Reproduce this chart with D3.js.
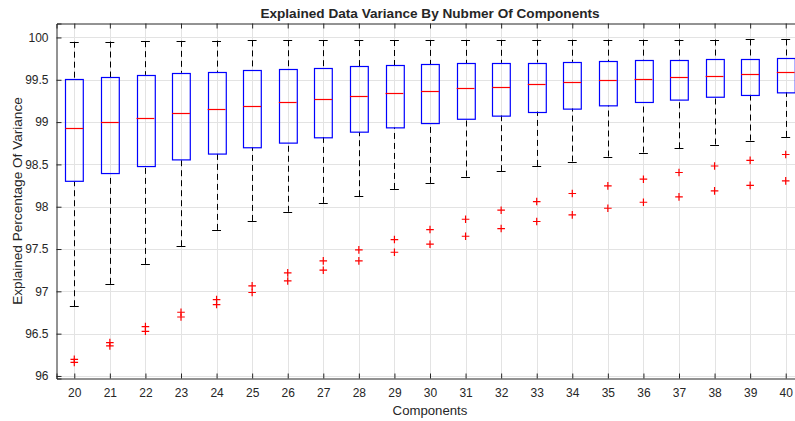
<!DOCTYPE html>
<html>
<head>
<meta charset="utf-8">
<script src="https://cdn.jsdelivr.net/npm/d3@7"></script>
<style>
  html, body { margin: 0; padding: 0; background: #fff; }
  svg { display: block; }
  text { font-family: "Liberation Sans", Arial, Helvetica, sans-serif; fill: #262626; }
</style>
</head>
<body>
<svg id="chart" width="795" height="421"></svg>
<script>
// ---- data ----
const components = [20,21,22,23,24,25,26,27,28,29,30,31,32,33,34,35,36,37,38,39,40];
const upperWhisker = [99.950,99.952,99.956,99.960,99.963,99.965,99.967,99.968,99.969,99.970,99.971,99.972,99.972,99.973,99.973,99.974,99.974,99.975,99.975,99.976,99.976];
const q3Values     = [99.504,99.527,99.558,99.582,99.593,99.613,99.629,99.641,99.657,99.673,99.681,99.693,99.700,99.704,99.712,99.720,99.728,99.735,99.740,99.747,99.759];
const medianValues = [98.936,98.999,99.054,99.105,99.152,99.196,99.239,99.274,99.306,99.342,99.369,99.397,99.420,99.448,99.468,99.492,99.511,99.527,99.546,99.566,99.586];
const q1Values     = [98.301,98.392,98.482,98.561,98.629,98.700,98.759,98.822,98.881,98.936,98.983,99.034,99.078,99.125,99.161,99.196,99.232,99.267,99.294,99.322,99.353];
const lowerWhisker = [96.824,97.088,97.324,97.533,97.726,97.832,97.940,98.045,98.124,98.210,98.281,98.357,98.420,98.482,98.534,98.593,98.640,98.690,98.735,98.782,98.825];
const outlierHigh  = [96.197,96.395,96.584,96.753,96.903,97.064,97.218,97.360,97.490,97.612,97.730,97.852,97.959,98.061,98.156,98.246,98.325,98.404,98.481,98.548,98.617];
const outlierLow   = [96.160,96.355,96.528,96.697,96.844,96.986,97.123,97.250,97.360,97.462,97.557,97.651,97.742,97.825,97.904,97.982,98.053,98.116,98.187,98.252,98.305];
const yTickValues  = [96, 96.5, 97, 97.5, 98, 98.5, 99, 99.5, 100];
const titleText = "Explained Data Variance By Nubmer Of Components";
const xLabelText = "Components";
const yLabelText = "Explained Percentage Of Variance";

// ---- layout ----
const W = 795, H = 421;
const plotLeft = 56.5, plotRight = 803.5, plotTop = 23.5, plotBottom = 378.5;
const boxHalf = 0.25;   // box width = 0.5 category units
const capHalf = 0.125;  // whisker cap width

const svg = d3.select("#chart");
const x = d3.scaleLinear().domain([19.5, 40.5]).range([plotLeft, plotRight]);
const y = d3.scaleLinear().domain([95.97, 100.165]).range([plotBottom, plotTop]);

const gridColor = "#e3e3e3";
const axisColor = "#262626";

// grid
const grid = svg.append("g");
grid.selectAll("line.gx").data(components).join("line")
  .attr("x1", d => Math.round(x(d)) + 0.5).attr("x2", d => Math.round(x(d)) + 0.5)
  .attr("y1", plotTop).attr("y2", plotBottom)
  .attr("stroke", gridColor).attr("stroke-width", 1);
grid.selectAll("line.gy").data(yTickValues).join("line")
  .attr("x1", plotLeft).attr("x2", plotRight)
  .attr("y1", d => Math.round(y(d)) + 0.5).attr("y2", d => Math.round(y(d)) + 0.5)
  .attr("stroke", gridColor).attr("stroke-width", 1);

// boxes data
const rows = components.map((c, i) => ({
  c, uw: upperWhisker[i], q3: q3Values[i], med: medianValues[i], q1: q1Values[i], lw: lowerWhisker[i],
  outs: [outlierHigh[i], outlierLow[i]]
}));

const g = svg.append("g");
const px = v => Math.round(v) + 0.5;

// whiskers (dashed)
g.selectAll("line.wu").data(rows).join("line")
  .attr("x1", d => px(x(d.c))).attr("x2", d => px(x(d.c)))
  .attr("y1", d => y(d.uw)).attr("y2", d => y(d.q3))
  .attr("stroke", "#000").attr("stroke-width", 1).attr("stroke-dasharray", "6,4");
g.selectAll("line.wl").data(rows).join("line")
  .attr("x1", d => px(x(d.c))).attr("x2", d => px(x(d.c)))
  .attr("y1", d => y(d.lw)).attr("y2", d => y(d.q1))
  .attr("stroke", "#000").attr("stroke-width", 1).attr("stroke-dasharray", "6,4");
// caps
g.selectAll("line.cu").data(rows).join("line")
  .attr("x1", d => x(d.c - capHalf)).attr("x2", d => x(d.c + capHalf))
  .attr("y1", d => px(y(d.uw))).attr("y2", d => px(y(d.uw)))
  .attr("stroke", "#000").attr("stroke-width", 1);
g.selectAll("line.cl").data(rows).join("line")
  .attr("x1", d => x(d.c - capHalf)).attr("x2", d => x(d.c + capHalf))
  .attr("y1", d => px(y(d.lw))).attr("y2", d => px(y(d.lw)))
  .attr("stroke", "#000").attr("stroke-width", 1);
// boxes
g.selectAll("rect.box").data(rows).join("rect")
  .attr("x", d => px(x(d.c - boxHalf))).attr("width", d => x(d.c + boxHalf) - x(d.c - boxHalf))
  .attr("y", d => px(y(d.q3))).attr("height", d => y(d.q1) - y(d.q3))
  .attr("fill", "none").attr("stroke", "#0000ff").attr("stroke-width", 1.2);
// medians
g.selectAll("line.med").data(rows).join("line")
  .attr("x1", d => x(d.c - boxHalf)).attr("x2", d => x(d.c + boxHalf))
  .attr("y1", d => px(y(d.med))).attr("y2", d => px(y(d.med)))
  .attr("stroke", "#ff0000").attr("stroke-width", 1.2);
// outliers (+)
const outPts = rows.flatMap(d => d.outs.map(v => ({ c: d.c, v })));
const ms = 3.8;
g.selectAll("path.out").data(outPts).join("path")
  .attr("d", d => {
    const cx = x(d.c), cy = y(d.v);
    return `M${cx - ms},${cy}H${cx + ms}M${cx},${cy - ms}V${cy + ms}`;
  })
  .attr("fill", "none").attr("stroke", "#ff0000").attr("stroke-width", 1.2);

// axes
const xAxisB = d3.axisBottom(x).tickValues(components).tickSize(-5).tickPadding(10).tickFormat(d3.format("d"));
const xAxisT = d3.axisTop(x).tickValues(components).tickSize(-5).tickFormat("");
const yAxisL = d3.axisLeft(y).tickValues(yTickValues).tickSize(-5).tickPadding(8).tickFormat(d => String(d));

const gxb = svg.append("g").attr("transform", `translate(0,${plotBottom})`).call(xAxisB);
const gxt = svg.append("g").attr("transform", `translate(0,${plotTop})`).call(xAxisT);
const gyl = svg.append("g").attr("transform", `translate(${plotLeft},0)`).call(yAxisL);
[gxb, gxt, gyl].forEach(a => {
  a.select(".domain").attr("stroke", axisColor).attr("stroke-width", 1);
  a.selectAll(".tick line").attr("stroke", axisColor).attr("stroke-width", 1);
  a.selectAll(".tick text").attr("fill", axisColor).style("font-size", "12px")
    .style("font-family", '"Liberation Sans", Arial, sans-serif');
});
gxb.selectAll(".tick text").attr("dy", "0.71em");

// title & labels
const cxAxes = (plotLeft + plotRight) / 2;
svg.append("text").attr("x", cxAxes).attr("y", 18).attr("text-anchor", "middle")
  .style("font-size", "13.6px").style("font-weight", "bold").attr("fill", "#000").text(titleText);
svg.append("text").attr("x", cxAxes).attr("y", 415).attr("text-anchor", "middle")
  .style("font-size", "13.2px").text(xLabelText);
svg.append("text").attr("transform", `translate(22,${(plotTop + plotBottom) / 2}) rotate(-90)`)
  .attr("text-anchor", "middle").style("font-size", "13.6px").text(yLabelText);
</script>
</body>
</html>
